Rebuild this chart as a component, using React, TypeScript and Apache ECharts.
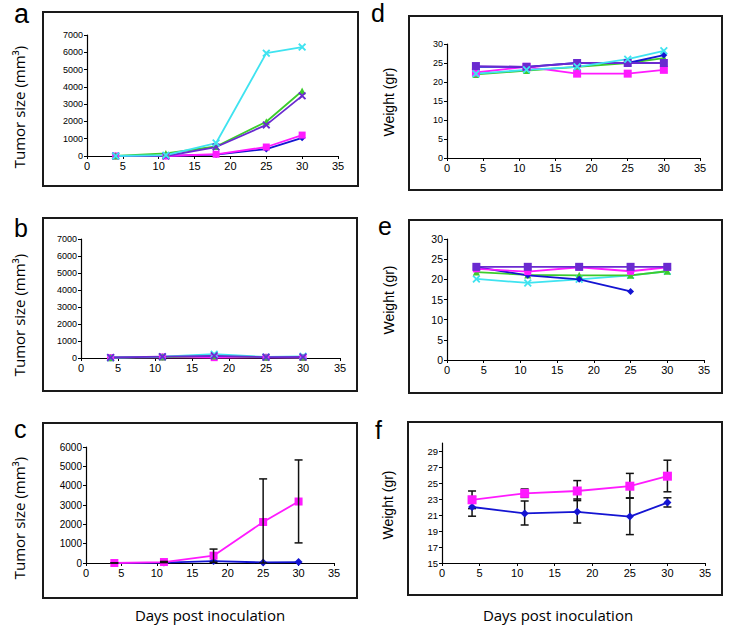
import React, { useEffect, useRef } from "react";
import * as echarts from "echarts";

// ---------- data ----------
const days = [4, 11, 18, 25, 30];
const xTicks = [0, 5, 10, 15, 20, 25, 30, 35];

// panel a: tumor size (mm3)
const aCyan = [0, 50, 750, 5950, 6300];
const aGreen = [0, 150, 550, 1980, 3760];
const aPurple = [0, 0, 520, 1800, 3480];
const aMagenta = [0, 0, 100, 520, 1210];
const aBlue = [0, 0, 80, 400, 1050];

// panel b: tumor size (mm3)
const bCyan = [20, 80, 220, 60, 100];
const bGreen = [20, 60, 120, 50, 40];
const bPurple = [30, 80, 130, 50, 60];
const bMagenta = [20, 60, 20, 40, 30];
const bBlue = [20, 60, 80, 40, 40];

// panel c: mean tumor size with error bars
const cMagenta = [0, 50, 380, 2120, 3180];
const cMagentaLow = [0, 20, 40, 0, 1040];
const cMagentaHigh = [0, 80, 720, 4350, 5330];
const cBlue = [0, 20, 100, 30, 50];

// panel d: weight (gr)
const dBlue = [24, 24, 25, 25, 27.1];
const dMagenta = [22.5, 24, 22.2, 22.2, 23.2];
const dGreen = [22, 23, 24, 25, 26.3];
const dCyan = [22.2, 23.2, 24, 26, 28.2];
const dPurple = [24.2, 24, 25, 25, 25];

// panel e: weight (gr)
const eBlue = [23, 21, 20, 17, null];
const eMagenta = [22.6, 21.9, 23, 22, 23];
const eGreen = [21.8, 21.1, 21, 21, 22];
const eCyan = [20.1, 19.1, 20, 21, 22];
const ePurple = [23.1, 23.1, 23.1, 23.1, 23.1];

// panel f: mean weight with error bars
const fMagenta = [22.9, 23.7, 24.0, 24.6, 25.85];
const fMagentaLow = [21.8, 23.2, 22.8, 23.1, 23.9];
const fMagentaHigh = [24.0, 24.25, 25.3, 26.2, 27.85];
const fBlue = [22.0, 21.2, 21.4, 20.8, 22.55];
const fBlueLow = [20.85, 19.75, 20.0, 18.55, 22.0];
const fBlueHigh = [23.3, 22.75, 23.0, 23.15, 23.15];
const fTicks = [15, 17, 19, 21, 23, 25, 27, 29];

const panelLetters = ["a", "b", "c", "d", "e", "f"];
const tumorTitle = "Tumor size (mm³)";
const weightTitle = "Weight (gr)";
const xTitle = "Days post inoculation";

// ---------- styles ----------
const C_BLUE = "#1414d2";
const C_MAGENTA = "#ff1aff";
const C_GREEN = "#3ccc2c";
const C_CYAN = "#3fe3f0";
const C_PURPLE = "#6a2ad0";
const X_SYM =
  "path://M0,1.6L1.6,0L5,3.4L8.4,0L10,1.6L6.6,5L10,8.4L8.4,10L5,6.6L1.6,10L0,8.4L3.4,5Z";

const AX_FONT = "'Liberation Sans', Arial, sans-serif";
const TITLE_FONT = "'Open Sans', 'Noto Sans', sans-serif";

const grids = [
  { left: 87, top: 35, width: 251, height: 121 },
  { left: 81, top: 239, width: 259, height: 119 },
  { left: 86, top: 447, width: 248, height: 116 },
  { left: 447, top: 44, width: 253, height: 114 },
  { left: 447, top: 239, width: 257, height: 121 },
  { left: 442, top: 443, width: 263, height: 120 },
];
const yLabelSizes = [9, 9, 10, 9, 10.5, 9.5];

const frames = [
  { x: 43, y: 12, w: 315, h: 174 },
  { x: 43, y: 218, w: 314, h: 173 },
  { x: 43, y: 423, w: 314, h: 175 },
  { x: 409, y: 16, w: 313, h: 174 },
  { x: 409, y: 220, w: 313, h: 173 },
  { x: 408, y: 422, w: 314, h: 173 },
];

// x = left edge, b = baseline
const letterPos = [
  { x: 14, b: 23, size: 27 },
  { x: 14, b: 237, size: 25 },
  { x: 14, b: 438, size: 25 },
  { x: 371, b: 22, size: 25 },
  { x: 378, b: 235, size: 25 },
  { x: 375, b: 439, size: 25 },
];

function pairs(ys: (number | null)[]) {
  return days.map((d, i) => [d, ys[i]]);
}

function line(gi: number, ys: (number | null)[], color: string, symbol: string, size = 7, z = 2) {
  return {
    type: "line",
    xAxisIndex: gi,
    yAxisIndex: gi,
    data: pairs(ys),
    symbol,
    symbolSize: size,
    showSymbol: true,
    connectNulls: false,
    lineStyle: { color, width: 1.8 },
    itemStyle: { color, borderWidth: 0 },
    z,
  };
}

function errBars(gi: number, lo: number[], hi: number[]) {
  return {
    type: "custom",
    xAxisIndex: gi,
    yAxisIndex: gi,
    data: days.map((d, i) => [d, lo[i], hi[i]]),
    encode: { x: 0, y: [1, 2] },
    z: 3,
    renderItem: (params: any, api: any) => {
      const x = api.value(0);
      const a = api.coord([x, api.value(1)]);
      const b = api.coord([x, api.value(2)]);
      const w = 4;
      const st = { stroke: "#111", lineWidth: 1.5 };
      return {
        type: "group",
        children: [
          { type: "line", shape: { x1: a[0], y1: a[1], x2: b[0], y2: b[1] }, style: st },
          { type: "line", shape: { x1: a[0] - w, y1: a[1], x2: a[0] + w, y2: a[1] }, style: st },
          { type: "line", shape: { x1: b[0] - w, y1: b[1], x2: b[0] + w, y2: b[1] }, style: st },
        ],
      };
    },
  };
}

const labelFmt = (v: number) => String(v);

function xAxis(gi: number) {
  return {
    type: "value",
    gridIndex: gi,
    min: xTicks[0],
    max: xTicks[xTicks.length - 1],
    interval: 5,
    axisLine: { show: true, onZero: false, lineStyle: { color: "#000", width: 1.2 } },
    axisTick: { show: true, length: 3, lineStyle: { color: "#000", width: 1 } },
    axisLabel: { color: "#000", fontSize: 11, fontFamily: AX_FONT, margin: 4, formatter: labelFmt },
    splitLine: { show: false },
  };
}

function yAxis(gi: number, min: number, max: number, interval: number, extra: any = {}) {
  return {
    type: "value",
    gridIndex: gi,
    min,
    max,
    interval,
    axisLine: { show: true, onZero: false, lineStyle: { color: "#000", width: 1.2 } },
    axisTick: { show: true, length: 3, lineStyle: { color: "#000", width: 1 }, ...(extra.tick || {}) },
    axisLabel: {
      color: "#000",
      fontSize: yLabelSizes[gi],
      fontFamily: AX_FONT,
      margin: 4,
      formatter: labelFmt,
      ...(extra.label || {}),
    },
    splitLine: { show: false },
  };
}

export default function App() {
  const ref = useRef<HTMLDivElement>(null);
  useEffect(() => {
    if (!ref.current) return;
    const chart = echarts.init(ref.current, undefined, { renderer: "svg" });

    const graphics: any[] = [];
    frames.forEach((f) => {
      graphics.push({
        type: "rect",
        shape: { x: f.x, y: f.y, width: f.w, height: f.h },
        style: { fill: "none", stroke: "#1a1a1a", lineWidth: 2 },
        z: 0,
      });
    });
    letterPos.forEach((p, i) => {
      graphics.push({
        type: "text",
        x: p.x,
        y: p.b - 0.3465 * p.size,
        style: {
          text: panelLetters[i],
          font: `${p.size}px 'Liberation Sans', Arial, sans-serif`,
          fill: "#000",
          align: "left",
          verticalAlign: "middle",
        },
      });
    });
    const yTitles = [
      { x: 19, y: 107, t: tumorTitle, f: TITLE_FONT, s: 15 },
      { x: 19, y: 315, t: tumorTitle, f: TITLE_FONT, s: 15 },
      { x: 19, y: 518, t: tumorTitle, f: TITLE_FONT, s: 15 },
      { x: 389, y: 102, t: weightTitle, f: AX_FONT, s: 14 },
      { x: 389, y: 300, t: weightTitle, f: AX_FONT, s: 14 },
      { x: 388, y: 505, t: weightTitle, f: AX_FONT, s: 14 },
    ];
    yTitles.forEach((t) => {
      graphics.push({
        type: "text",
        x: t.x,
        y: t.y,
        rotation: Math.PI / 2,
        style: {
          text: t.t,
          font: `${t.s}px ${t.f}`,
          fill: "#000",
          align: "center",
          verticalAlign: "middle",
        },
      });
    });
    [210, 558].forEach((cx) => {
      graphics.push({
        type: "text",
        x: cx,
        y: 615,
        style: {
          text: xTitle,
          font: `15px ${TITLE_FONT}`,
          fill: "#000",
          align: "center",
          verticalAlign: "middle",
        },
      });
    });

    const option: any = {
      animation: false,
      backgroundColor: "#fff",
      grid: grids.map((g) => ({ ...g, containLabel: false })),
      xAxis: grids.map((_, i) => xAxis(i)),
      yAxis: [
        yAxis(0, 0, 7000, 1000),
        yAxis(1, 0, 7000, 1000),
        yAxis(2, 0, 6000, 1000),
        yAxis(3, 0, 30, 5),
        yAxis(4, 0, 30, 5),
        yAxis(5, 15, 30, 1, {
          tick: { customValues: fTicks },
          label: { customValues: fTicks },
        }),
      ],
      series: [
        // a
        line(0, aBlue, C_BLUE, "diamond"),
        line(0, aMagenta, C_MAGENTA, "rect"),
        line(0, aGreen, C_GREEN, "triangle"),
        line(0, aPurple, C_PURPLE, X_SYM, 8),
        line(0, aCyan, C_CYAN, X_SYM, 8),
        // b
        line(1, bBlue, C_BLUE, "diamond"),
        line(1, bMagenta, C_MAGENTA, "rect"),
        line(1, bGreen, C_GREEN, "triangle"),
        line(1, bCyan, C_CYAN, X_SYM, 8),
        line(1, bPurple, C_PURPLE, X_SYM, 8),
        // c
        line(2, cBlue, C_BLUE, "diamond", 8),
        line(2, cMagenta, C_MAGENTA, "rect", 8),
        errBars(2, cMagentaLow, cMagentaHigh),
        // d
        line(3, dGreen, C_GREEN, "triangle"),
        line(3, dMagenta, C_MAGENTA, "rect", 8),
        line(3, dBlue, C_BLUE, "diamond"),
        line(3, dPurple, C_PURPLE, "rect", 8),
        line(3, dCyan, C_CYAN, X_SYM, 8),
        // e
        line(4, eCyan, C_CYAN, X_SYM, 8),
        line(4, eGreen, C_GREEN, "triangle"),
        line(4, eBlue, C_BLUE, "diamond"),
        line(4, eMagenta, C_MAGENTA, "rect"),
        line(4, ePurple, C_PURPLE, "rect", 8),
        // f
        errBars(5, fBlueLow, fBlueHigh),
        errBars(5, fMagentaLow, fMagentaHigh),
        line(5, fBlue, C_BLUE, "diamond", 8, 4),
        line(5, fMagenta, C_MAGENTA, "rect", 9, 4),
      ],
      graphic: graphics,
    };
    chart.setOption(option);
    return () => chart.dispose();
  }, []);

  return (
    <div
      ref={ref}
      style={{ position: "fixed", left: 0, top: 0, width: 733, height: 632, background: "#fff" }}
    />
  );
}
